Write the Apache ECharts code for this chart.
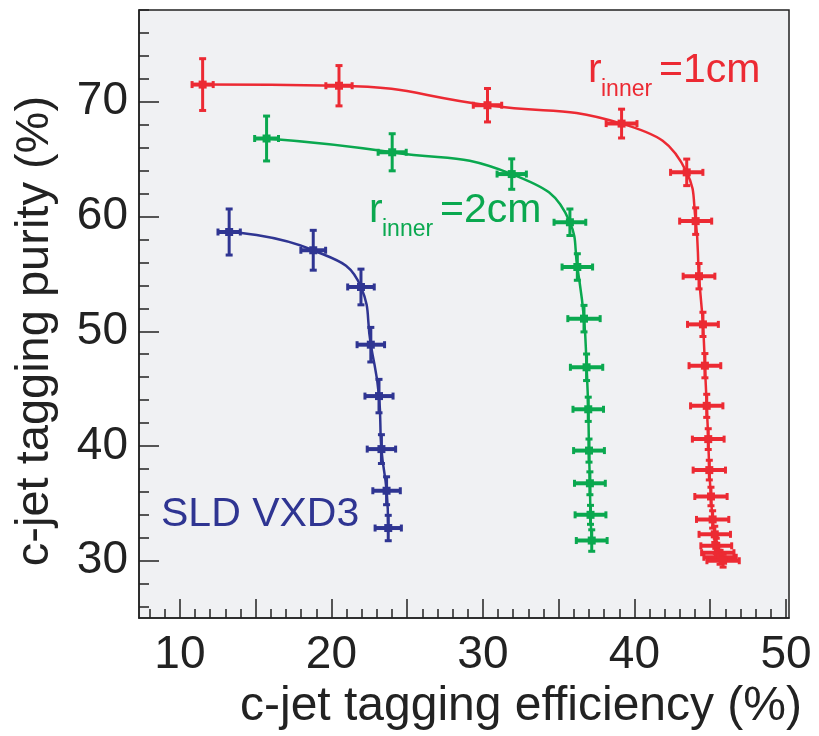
<!DOCTYPE html>
<html>
<head>
<meta charset="utf-8">
<script src="https://cdn.jsdelivr.net/npm/echarts@6/dist/echarts.min.js"></script>
<style>
  html, body { margin: 0; padding: 0; background: #fff; }
  #chart { width: 819px; height: 736px; }
</style>
</head>
<body>
<div id="chart"></div>
<script>
// r_inner = 1cm
const redEff = [11.5, 20.5, 30.3, 39.15, 43.45, 44.04, 44.26, 44.52, 44.65, 44.77, 44.87, 44.94, 45.05, 45.16, 45.3, 45.4, 45.5, 45.65, 45.85];
const redPur = [71.5, 71.4, 69.7, 68.1, 63.85, 59.6, 54.8, 50.6, 47.0, 43.5, 40.6, 37.9, 35.6, 33.6, 32.3, 31.3, 30.7, 30.3, 30.0];
const redEffErr = [0.73, 0.9, 0.97, 1.05, 1.1, 1.09, 1.08, 1.05, 1.08, 1.1, 1.08, 1.1, 1.1, 1.1, 1.07, 1.05, 1.1, 1.1, 1.1];
const redPurErr = [2.3, 1.8, 1.5, 1.3, 1.2, 1.2, 1.15, 1.1, 1.1, 1.05, 0.95, 0.9, 0.85, 0.8, 0.75, 0.7, 0.65, 0.65, 0.6];

// r_inner = 2cm
const greenEff = [15.72, 24.01, 31.9, 35.74, 36.23, 36.67, 36.84, 36.95, 37.0, 37.06, 37.1, 37.18];
const greenPur = [66.8, 65.6, 63.7, 59.5, 55.6, 51.1, 46.86, 43.2, 39.6, 36.75, 34.0, 31.76];
const greenEffErr = [0.82, 0.96, 1.0, 1.08, 1.04, 1.1, 1.1, 1.04, 1.05, 1.05, 1.05, 1.05];
const greenPurErr = [2.0, 1.66, 1.37, 1.2, 1.2, 1.2, 1.2, 1.1, 1.05, 1.04, 0.87, 0.98];

// SLD VXD3
const blueEff = [13.25, 18.8, 21.95, 22.6, 23.14, 23.3, 23.64, 23.75];
const bluePur = [58.65, 57.06, 53.86, 48.83, 44.35, 39.73, 36.1, 32.85];
const blueEffErr = [0.77, 0.85, 0.91, 0.94, 0.96, 0.97, 0.94, 0.9];
const bluePurErr = [2.05, 1.78, 1.6, 1.55, 1.5, 1.3, 1.26, 1.15];

const xLabelTicks = [10, 20, 30, 40, 50];
const xMajorTicks = [10, 15, 20, 25, 30, 35, 40, 45, 50];
const xMinorTicks = [8, 9, 11, 12, 13, 14, 16, 17, 18, 19, 21, 22, 23, 24, 26, 27, 28, 29, 31, 32, 33, 34, 36, 37, 38, 39, 41, 42, 43, 44, 46, 47, 48, 49];
const yLabelTicks = [30, 40, 50, 60, 70];
const yMinorTicks = [26, 28, 32, 34, 36, 38, 42, 44, 46, 48, 52, 54, 56, 58, 62, 64, 66, 68, 72, 74, 76, 78];

const RED = '#ec2a33', GREEN = '#0aa84f', BLUE = '#2f3592';
const FONT = '"Liberation Sans", Arial, sans-serif';

function zip(a, b) { return a.map((v, i) => [v, b[i]]); }
function zip4(a, b, c, d) { return a.map((v, i) => [v, b[i], c[i], d[i]]); }

// error bar cross: x error, y error, caps and a small square marker
function renderErr(params, api) {
  const x = api.value(0), y = api.value(1), ex = api.value(2), ey = api.value(3);
  const c = api.coord([x, y]);
  const l = api.coord([x - ex, y]), r = api.coord([x + ex, y]);
  const t = api.coord([x, y + ey]), b = api.coord([x, y - ey]);
  const color = api.visual('color');
  const st = { fill: color };
  return {
    type: 'group',
    children: [
      { type: 'rect', shape: { x: l[0], y: c[1] - 2, width: r[0] - l[0], height: 4 }, style: st },
      { type: 'rect', shape: { x: c[0] - 1.5, y: t[1], width: 3, height: b[1] - t[1] }, style: st },
      { type: 'rect', shape: { x: l[0] - 1, y: c[1] - 3.5, width: 3, height: 7 }, style: st },
      { type: 'rect', shape: { x: r[0] - 2, y: c[1] - 3.5, width: 3, height: 7 }, style: st },
      { type: 'rect', shape: { x: c[0] - 3.5, y: t[1] - 1, width: 7, height: 3 }, style: st },
      { type: 'rect', shape: { x: c[0] - 3.5, y: b[1] - 2, width: 7, height: 3 }, style: st },
      { type: 'rect', shape: { x: c[0] - 4, y: c[1] - 4, width: 8, height: 8 }, style: st }
    ]
  };
}

function curve(name, color, eff, pur) {
  return { name: name, type: 'line', data: zip(eff, pur), smooth: true, showSymbol: false,
    lineStyle: { color: color, width: 2.5 }, itemStyle: { color: color }, z: 2 };
}
function bars(name, color, eff, pur, ee, pe) {
  return { name: name, type: 'custom', renderItem: renderErr, data: zip4(eff, pur, ee, pe),
    encode: { x: 0, y: 1 }, itemStyle: { color: color }, z: 3 };
}

const chart = echarts.init(document.getElementById('chart'));
chart.setOption({
  animation: false,
  backgroundColor: '#fff',
  grid: { left: 139, right: 30, top: 10, bottom: 114, show: true,
    backgroundColor: '#f0f1f3', borderColor: '#222', borderWidth: 1.5 },
  xAxis: [
    { type: 'value', min: 7.3, max: 50.2, position: 'bottom',
      name: 'c-jet tagging efficiency (%)', nameLocation: 'middle', nameGap: 62,
      nameTextStyle: { fontFamily: FONT, fontSize: 48, color: '#222', padding: [0, 0, 0, 114] },
      axisLine: { show: true, lineStyle: { color: '#222', width: 1.5 } },
      axisTick: { show: true, inside: true, length: 19, customValues: xMajorTicks, lineStyle: { color: '#222', width: 1.5 } },
      axisLabel: { customValues: xLabelTicks, margin: 14, fontFamily: FONT, fontSize: 46, color: '#222' },
      splitLine: { show: false } },
    { type: 'value', min: 7.3, max: 50.2, position: 'bottom',
      axisLine: { show: false },
      axisTick: { show: true, inside: true, length: 9, customValues: xMinorTicks, lineStyle: { color: '#222', width: 1.5 } },
      axisLabel: { show: false }, splitLine: { show: false } }
  ],
  yAxis: [
    { type: 'value', min: 25, max: 78, position: 'left',
      name: 'c-jet tagging purity (%)', nameLocation: 'middle', nameGap: 80,
      nameTextStyle: { fontFamily: FONT, fontSize: 47, color: '#222', padding: [0, 34, 0, 0] },
      axisLine: { show: true, lineStyle: { color: '#222', width: 1.5 } },
      axisTick: { show: true, inside: true, length: 20, customValues: yLabelTicks, lineStyle: { color: '#222', width: 1.5 } },
      axisLabel: { customValues: yLabelTicks, margin: 11, fontFamily: FONT, fontSize: 46, color: '#222' },
      splitLine: { show: false } },
    { type: 'value', min: 25, max: 78, position: 'left',
      axisLine: { show: false },
      axisTick: { show: true, inside: true, length: 10, customValues: yMinorTicks, lineStyle: { color: '#222', width: 1.5 } },
      axisLabel: { show: false }, splitLine: { show: false } }
  ],
  series: [
    curve('r_inner=1cm', RED, redEff, redPur),
    curve('r_inner=2cm', GREEN, greenEff, greenPur),
    curve('SLD VXD3', BLUE, blueEff, bluePur),
    bars('r_inner=1cm err', RED, redEff, redPur, redEffErr, redPurErr),
    bars('r_inner=2cm err', GREEN, greenEff, greenPur, greenEffErr, greenPurErr),
    bars('SLD VXD3 err', BLUE, blueEff, bluePur, blueEffErr, bluePurErr)
  ],
  graphic: [
    { type: 'text', left: 588, top: 50, style: { text: 'r', font: '41px ' + FONT, fill: RED } },
    { type: 'text', left: 601, top: 78, style: { text: 'inner', font: '23px ' + FONT, fill: RED } },
    { type: 'text', left: 659, top: 50, style: { text: '=1cm', font: '41px ' + FONT, fill: RED } },
    { type: 'text', left: 369, top: 190, style: { text: 'r', font: '41px ' + FONT, fill: GREEN } },
    { type: 'text', left: 382, top: 218, style: { text: 'inner', font: '23px ' + FONT, fill: GREEN } },
    { type: 'text', left: 440, top: 190, style: { text: '=2cm', font: '41px ' + FONT, fill: GREEN } },
    { type: 'text', left: 161, top: 494, style: { text: 'SLD VXD3', font: '41px ' + FONT, fill: BLUE } }
  ]
});
</script>
</body>
</html>
